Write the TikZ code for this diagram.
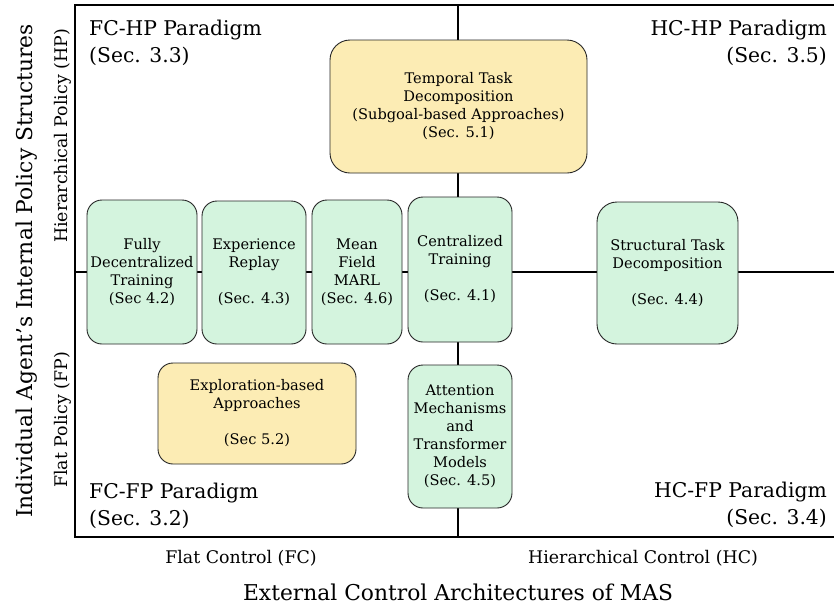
\documentclass[tikz,border=0pt]{standalone}
\usepackage{fontspec}
\setmainfont{DejaVu Serif}
\definecolor{boxgreen}{RGB}{212,244,222}
\definecolor{boxyellow}{RGB}{252,236,180}
\begin{document}
\begin{tikzpicture}[x=1pt,y=-1pt,
  box/.style={draw=black!85, line width=0.9pt, rounded corners=15pt, align=center, inner sep=0pt, font=\fontsize{14.6}{18}\selectfont},
  gbox/.style={box, fill=boxgreen},
  ybox/.style={box, fill=boxyellow},
  para/.style={inner sep=0pt, font=\fontsize{20.3}{27}\selectfont},
  axislab/.style={inner sep=0pt, font=\fontsize{17.4}{20}\selectfont},
  biglab/.style={inner sep=0pt, font=\fontsize{21.8}{25}\selectfont},
  frameline/.style={line width=2.6pt},
  axisline/.style={line width=2.2pt}]
\useasboundingbox (0,0) rectangle (834,606);
\fill[white] (0,0) rectangle (834,606);
% frame and axes
\coordinate (ftr) at (834,5);
\coordinate (ftl) at (75,5);
\coordinate (fbl) at (75,537);
\coordinate (fbr) at (834,537);
\coordinate (vtop) at (458,5);
\coordinate (vbot) at (458,537);
\coordinate (hleft) at (75,272);
\coordinate (hright) at (834,272);
\draw[axisline] (vtop) -- (vbot);
\draw[axisline] (hleft) -- (hright);
\draw[frameline] (ftr) -- (ftl) -- (fbl) -- (fbr);
% boxes
\node[ybox, rounded corners=20pt, minimum width=257pt, minimum height=133pt] (temporal) at (458.5,106.5)
  {Temporal Task\\Decomposition\\(Subgoal-based Approaches)\\(Sec. 5.1)};
\node[gbox, minimum width=110pt, minimum height=144pt] (fdt) at (142,272)
  {Fully\\Decentralized\\Training\\(Sec 4.2)};
\node[gbox, minimum width=104pt, minimum height=143pt] (er) at (254,272.5)
  {Experience\\Replay\\~\\(Sec. 4.3)};
\node[gbox, minimum width=90pt, minimum height=144pt] (mf) at (357,272)
  {Mean\\Field\\MARL\\(Sec. 4.6)};
\node[gbox, minimum width=104pt, minimum height=145pt] (ct) at (460,269.5)
  {Centralized\\Training\\~\\(Sec. 4.1)};
\node[gbox, rounded corners=20pt, minimum width=141pt, minimum height=142pt] (st) at (667.5,273)
  {Structural Task\\Decomposition\\~\\(Sec. 4.4)};
\node[ybox, minimum width=198pt, minimum height=101pt] (exp) at (257,413.5)
  {Exploration-based\\Approaches\\~\\(Sec 5.2)};
\node[gbox, minimum width=104pt, minimum height=143pt] (att) at (460,436.5)
  {Attention\\Mechanisms\\and\\Transformer\\Models\\(Sec. 4.5)};
% paradigm labels
\node[para, anchor=base west] (fchp1) at (89,35) {FC-HP Paradigm};
\node[para, anchor=base west] (fchp2) at (89,62) {(Sec. 3.3)};
\node[para, anchor=base east] (hchp1) at (827,35) {HC-HP Paradigm};
\node[para, anchor=base east] (hchp2) at (827,62) {(Sec. 3.5)};
\node[para, anchor=base west] (fcfp1) at (89,498) {FC-FP Paradigm};
\node[para, anchor=base west] (fcfp2) at (89,525) {(Sec. 3.2)};
\node[para, anchor=base east] (hcfp1) at (827,497) {HC-FP Paradigm};
\node[para, anchor=base east] (hcfp2) at (827,524) {(Sec. 3.4)};
% axis labels
\node[axislab, anchor=base] (fc) at (241,563) {Flat Control (FC)};
\node[axislab, anchor=base] (hc) at (643,563) {Hierarchical Control (HC)};
\node[biglab, anchor=base] (xlab) at (458,600) {External Control Architectures of MAS};
\node[axislab, anchor=base, rotate=90] (hp) at (67,136) {Hierarchical Policy (HP)};
\node[axislab, anchor=base, rotate=90] (fp) at (67,420) {Flat Policy (FP)};
\node[biglab, anchor=base, rotate=90] (ylab) at (32,271) {Individual Agent's Internal Policy Structures};
\end{tikzpicture}
\end{document}
